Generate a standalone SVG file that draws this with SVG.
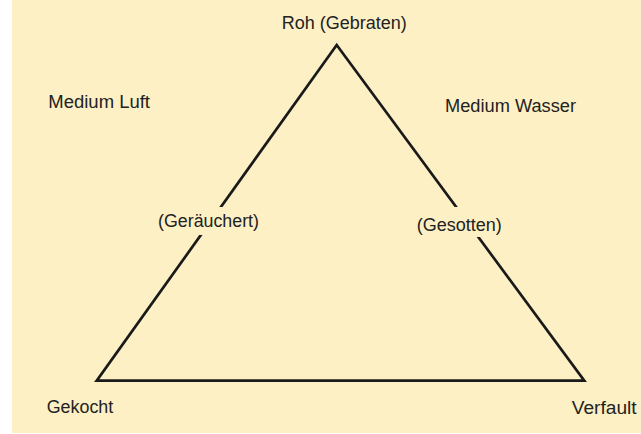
<svg xmlns="http://www.w3.org/2000/svg" width="641" height="434" viewBox="0 0 641 434">
<style>
.bg{fill:#fdf0c4}
.t{font-family:"Liberation Sans",Arial,sans-serif;font-size:17.5px;fill:#222}
.edge{fill:none;stroke:#1a1a1a;stroke-width:2.7;stroke-linejoin:miter}
</style>
<rect x="0" y="0" width="641" height="434" fill="#ffffff"/>
<rect class="bg" x="12" y="0" width="629" height="433"/>
<g id="connectors">
<polygon class="edge" points="336.7,45 584.3,380.7 96.7,380.7"/>
</g>
<g id="roh"><text class="t" x="281.7" y="28.5" textLength="125" lengthAdjust="spacingAndGlyphs">Roh (Gebraten)</text></g>
<g id="medium-luft"><text class="t" x="48.3" y="107.7" textLength="101.7" lengthAdjust="spacingAndGlyphs">Medium Luft</text></g>
<g id="medium-wasser"><text class="t" x="445" y="112.3" textLength="131" lengthAdjust="spacingAndGlyphs">Medium Wasser</text></g>
<g id="geraeuchert"><rect class="bg" x="154" y="207" width="110" height="28"/><text class="t" x="158" y="226.7" textLength="101" lengthAdjust="spacingAndGlyphs">(Geräuchert)</text></g>
<g id="gesotten"><rect class="bg" x="413" y="207" width="93" height="30"/><text class="t" x="416.7" y="230.7" textLength="85" lengthAdjust="spacingAndGlyphs">(Gesotten)</text></g>
<g id="gekocht"><text class="t" x="46.7" y="413" textLength="66.6" lengthAdjust="spacingAndGlyphs">Gekocht</text></g>
<g id="verfault"><text class="t" x="571.7" y="414" textLength="65" lengthAdjust="spacingAndGlyphs">Verfault</text></g>
</svg>
